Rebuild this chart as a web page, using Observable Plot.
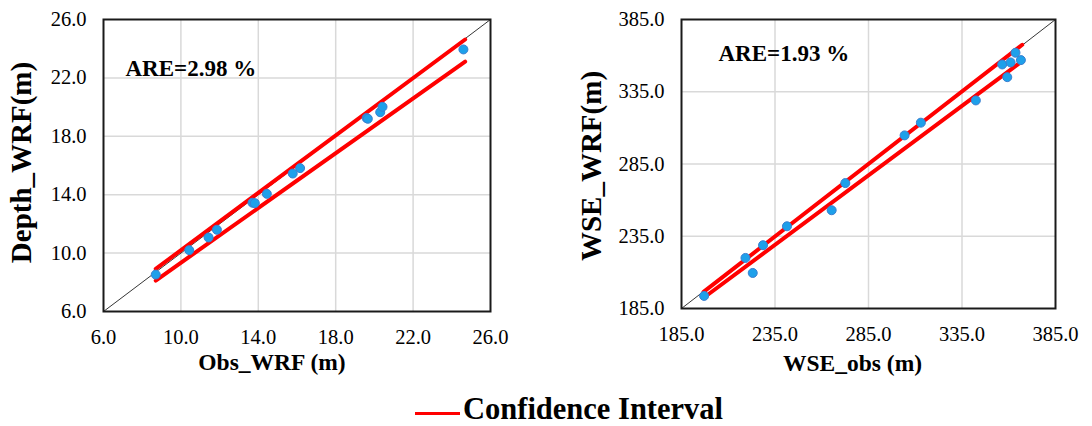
<!DOCTYPE html>
<html>
<head>
<meta charset="utf-8">
<script src="https://cdn.jsdelivr.net/npm/d3@7"></script>
<script src="https://cdn.jsdelivr.net/npm/@observablehq/plot@0.6"></script>
<style>
  html, body { margin: 0; padding: 0; background: #fff; }
  #wrap { position: relative; width: 1092px; height: 426px; font-family: "Liberation Serif", "Times New Roman", serif; }
  #wrap svg text { font-family: "Liberation Serif", "Times New Roman", serif !important; font-variant: normal !important; }
  #left { position: absolute; left: 0; top: 0; }
  #right { position: absolute; left: 560px; top: 0; }
  #legend { position: absolute; left: 0; top: 380px; width: 1092px; height: 46px; }
  #legend .sw { position: absolute; left: 415px; top: 32px; width: 45px; height: 3px; background: #ff0000; }
  #legend .lt { position: absolute; left: 463px; top: 14px; font-weight: bold; font-size: 30.5px; line-height: 1; color: #000; white-space: nowrap; }
</style>
</head>
<body>
<div id="wrap">
  <div id="left"></div>
  <div id="right"></div>
  <div id="legend"><div class="sw"></div><div class="lt">Confidence Interval</div></div>
</div>
<script>
// ---- Data: left panel (depth) ----
const depthObs = [8.70, 10.43, 11.43, 11.86, 13.70, 13.82, 14.44, 15.78, 16.16, 19.60, 19.66, 20.30, 20.42, 24.60];
const depthWrf = [8.53, 10.20, 11.07, 11.60, 13.45, 13.42, 14.06, 15.45, 15.82, 19.25, 19.20, 19.65, 20.02, 23.95];
const depthCiUpperX = [8.70, 24.69];
const depthCiUpperY = [8.92, 24.63];
const depthCiLowerX = [8.70, 24.69];
const depthCiLowerY = [8.12, 23.12];
const depthTicks = [6, 10, 14, 18, 22, 26];
const depthAre = "ARE=2.98 %";

// ---- Data: right panel (water surface elevation) ----
const wseObs = [197.1, 219.2, 223.1, 228.6, 241.4, 265.3, 272.6, 304.3, 313.0, 342.4, 356.5, 359.2, 361.0, 363.6, 366.5];
const wseWrf = [193.7, 220.0, 209.6, 228.8, 241.9, 253.0, 271.8, 304.8, 313.6, 329.0, 353.9, 345.1, 355.3, 362.0, 356.9];
const wseCiUpperX = [196.8, 367.2];
const wseCiUpperY = [196.5, 367.5];
const wseCiLowerX = [198.5, 365.4];
const wseCiLowerY = [194.0, 354.4];
const wseTicks = [185, 235, 285, 335, 385];
const wseAre = "ARE=1.93 %";

const SERIF = "Liberation Serif, Times New Roman, serif";

function panel(cfg) {
  const pts = cfg.obs.map((o, i) => ({x: o, y: cfg.wrf[i]}));
  const up = cfg.ux.map((x, i) => ({x, y: cfg.uy[i]}));
  const lo = cfg.lx.map((x, i) => ({x, y: cfg.ly[i]}));
  const dom = [cfg.ticks[0], cfg.ticks[cfg.ticks.length - 1]];
  const diag = [{x: dom[0], y: dom[0]}, {x: dom[1], y: dom[1]}];
  const inner = cfg.ticks.slice(1, -1);
  return Plot.plot({
    width: cfg.width,
    height: 380,
    marginLeft: cfg.ml,
    marginRight: cfg.mr,
    marginTop: 19,
    marginBottom: cfg.mb,
    style: {fontFamily: SERIF, fontSize: "20.5px", color: "#000", background: "#fff", overflow: "visible"},
    x: {domain: dom},
    y: {domain: dom},
    marks: [
      Plot.gridX(inner, {stroke: "#d9d9d9", strokeOpacity: 1, strokeWidth: 1.5}),
      Plot.gridY(inner, {stroke: "#d9d9d9", strokeOpacity: 1, strokeWidth: 1.5}),
      Plot.line(diag, {x: "x", y: "y", stroke: "#000", strokeWidth: 0.8}),
      Plot.line(up, {x: "x", y: "y", stroke: "#ff0000", strokeWidth: 4, strokeLinecap: "round"}),
      Plot.line(lo, {x: "x", y: "y", stroke: "#ff0000", strokeWidth: 4, strokeLinecap: "round"}),
      Plot.dot(pts, {x: "x", y: "y", r: 4.5, fill: "#1ea0ea", stroke: "#3b7fd0", strokeWidth: 1}),
      Plot.frame({stroke: "#1a1a1a", strokeWidth: 2}),
      Plot.axisX({ticks: cfg.ticks, tickFormat: d3.format(".1f"), tickSize: 0, tickPadding: 18, label: null, fontFamily: SERIF, fontSize: 20.5}),
      Plot.axisY({ticks: cfg.ticks, tickFormat: d3.format(".1f"), tickSize: 0, tickPadding: 17, label: null, fontFamily: SERIF, fontSize: 20.5}),
      Plot.text([cfg.xlabel], {frameAnchor: "bottom", text: d => d, textAnchor: "middle", dx: cfg.xdx, dy: cfg.xdy, fontFamily: SERIF, fontWeight: "bold", fontSize: 23.5, lineAnchor: "middle"}),
      Plot.text([cfg.ylabel], {frameAnchor: "left", text: d => d, textAnchor: "middle", rotate: -90, dx: cfg.ydx, dy: cfg.ydy, fontFamily: SERIF, fontWeight: "bold", fontSize: 29, lineAnchor: "middle"}),
      Plot.text([cfg.are], {frameAnchor: "top-left", text: d => d, textAnchor: "start", dx: cfg.adx, dy: cfg.ady, fontFamily: SERIF, fontWeight: "bold", fontSize: 23, lineAnchor: "middle"})
    ]
  });
}

document.getElementById("left").appendChild(panel({
  width: 540, ml: 103, mr: 50, mb: 69,
  obs: depthObs, wrf: depthWrf,
  ux: depthCiUpperX, uy: depthCiUpperY, lx: depthCiLowerX, ly: depthCiLowerY,
  ticks: depthTicks,
  xlabel: "Obs_WRF (m)", xdx: -25, xdy: 51,
  ylabel: "Depth_WRF(m)", ydx: -82, ydy: -3,
  are: depthAre, adx: 22, ady: 49
}));

document.getElementById("right").appendChild(panel({
  width: 532, ml: 121, mr: 37, mb: 72,
  obs: wseObs, wrf: wseWrf,
  ux: wseCiUpperX, uy: wseCiUpperY, lx: wseCiLowerX, ly: wseCiLowerY,
  ticks: wseTicks,
  xlabel: "WSE_obs (m)", xdx: -16, xdy: 55,
  ylabel: "WSE_WRF(m)", ydx: -90, ydy: 2,
  are: wseAre, adx: 37, ady: 34
}));
</script>
</body>
</html>
